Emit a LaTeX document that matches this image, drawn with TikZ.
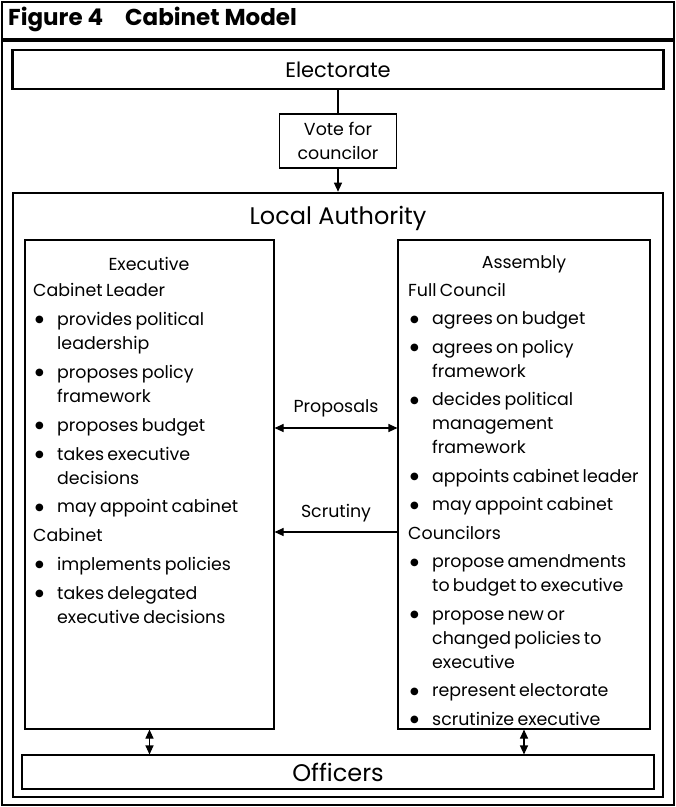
\documentclass[tikz,border=0pt]{standalone}
\usepackage{fontspec}
\setmainfont{Poppins}
\newfontfamily\symfont{DejaVu Sans}
\usetikzlibrary{arrows.meta,calc}
\newcommand\bul{\raisebox{2.8pt}{\symfont\fontsize{10}{10}\selectfont ●}}
\newcommand\itm[1]{\par\hangindent=24pt\hangafter=1\noindent\makebox[24pt][l]{\hspace{2pt}\bul}#1\par}
\newcommand\bodyfont{\fontsize{17.4}{24}\selectfont}
\begin{document}
\begin{tikzpicture}[x=1pt,y=-1pt,
  thinbox/.style={draw,line width=1.1pt,inner sep=0pt},
  thickbox/.style={draw,line width=2.6pt,inner sep=0pt},
  conn/.style={line width=1.1pt},
  tipend/.style={-{Triangle[length=9pt,width=8pt]}},
  tipboth/.style={{Triangle[length=9pt,width=8pt]}-{Triangle[length=9pt,width=8pt]}},
  lbl/.style={font=\bodyfont,inner sep=0pt}]
\useasboundingbox (0,0) rectangle (676,807);
% frame and title
\draw[line width=1.2pt] (2,2) rectangle (674,805);
\node[anchor=west,inner sep=0pt,font=\bfseries\fontsize{23}{24}\selectfont] (title) at (8,19) {Figure 4\hspace{22pt}Cabinet Model};
\draw[line width=3.5pt] (2,40) -- (674,40);
% electorate and vote
\node[thickbox,minimum width=651pt,minimum height=39pt,font=\fontsize{21}{24}\selectfont] (elect) at (338,69.5) {Electorate};
\node[thinbox,minimum width=117pt,minimum height=54pt,font=\bodyfont,align=center] (vote) at (338,141) {Vote for\\councilor};
% local authority
\node[thickbox,minimum width=650pt,minimum height=604pt] (la) at (338,495) {};
\node[inner sep=0pt,font=\fontsize{24}{26}\selectfont] (latitle) at (338,218) {Local Authority};
% executive and assembly boxes
\node[thinbox,minimum width=249pt,minimum height=489pt] (exec) at (149.5,484.5) {};
\node[thinbox,minimum width=252pt,minimum height=489pt] (asm) at (524,484.5) {};
\node[lbl] (exechead) at (149,264) {Executive};
\node[lbl] (asmhead) at (524,264) {Assembly};
\node[anchor=north west,inner sep=0pt,text width=236pt] (exectext) at (33,283) {\bodyfont\setlength\parindent{0pt}\setlength\parskip{4.9pt}\raggedright
Cabinet Leader\par
\itm{provides political\newline leadership}
\itm{proposes policy\newline framework}
\itm{proposes budget}
\itm{takes executive\newline decisions}
\itm{may appoint cabinet}
Cabinet\par
\itm{implements policies}
\itm{takes delegated\newline executive decisions}};
\node[anchor=north west,inner sep=0pt,text width=240pt] (asmtext) at (408,283) {\bodyfont\setlength\parindent{0pt}\setlength\parskip{4.5pt}\raggedright
Full Council\par
\itm{agrees on budget}
\itm{agrees on policy\newline framework}
\itm{decides political\newline management\newline framework}
\itm{appoints cabinet leader}
\itm{may appoint cabinet}
Councilors\par
\itm{propose amendments\newline to budget to executive}
\itm{propose new or\newline changed policies to\newline executive}
\itm{represent electorate}
\itm{scrutinize executive}};
% officers
\node[thinbox,minimum width=632pt,minimum height=34pt,font=\fontsize{24}{26}\selectfont] (off) at (338,772) {Officers};
% connectors
\draw[conn] (elect.south) -- (vote.north);
\draw[conn,tipend] (vote.south) -- (vote.south |- la.north);
\coordinate (propL) at ($(exec.east)+(0,-56.5)$);
\coordinate (propR) at ($(asm.west)+(0,-56.5)$);
\coordinate (scrL) at ($(exec.east)+(0,47.5)$);
\coordinate (scrR) at ($(asm.west)+(0,47.5)$);
\draw[conn,tipboth] (propL) -- (propR);
\draw[conn,tipend] (scrR) -- (scrL);
\node[lbl] (proplbl) at (336,408) {Proposals};
\node[lbl] (scrlbl) at (336,513) {Scrutiny};
\draw[conn,tipboth] (exec.south) -- (exec.south |- off.north);
\draw[conn,tipboth] (asm.south) -- (asm.south |- off.north);
\end{tikzpicture}
\end{document}
